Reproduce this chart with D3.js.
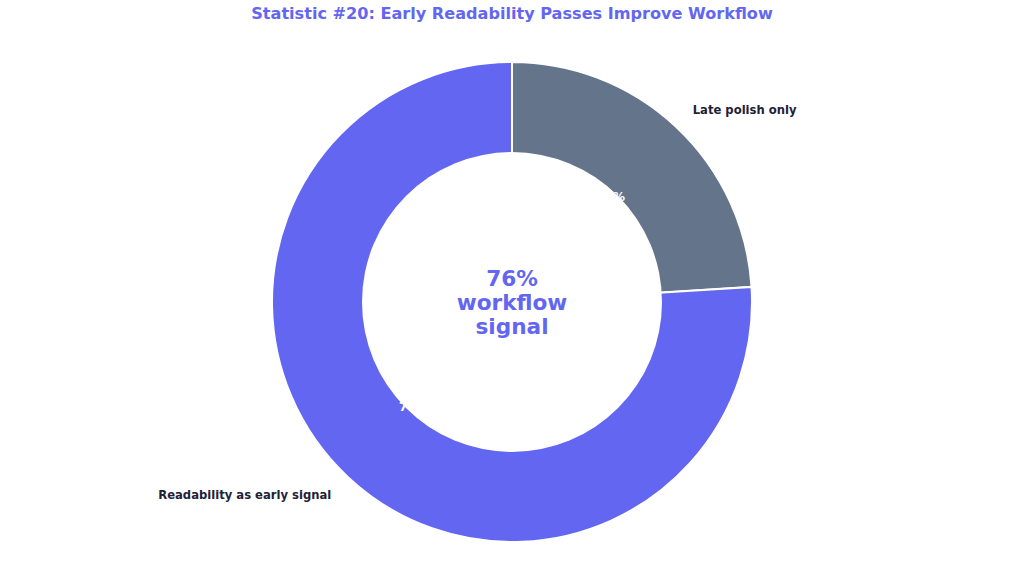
<!DOCTYPE html>
<html>
<head>
<meta charset="utf-8">
<script src="https://cdn.jsdelivr.net/npm/d3@7"></script>
<style>
  body { margin: 0; background: #ffffff; }
  svg { display: block; font-family: "DejaVu Sans", sans-serif; }
</style>
</head>
<body>
<svg id="chart" width="1024" height="573"></svg>
<script>
// slices, clockwise from 12 o'clock
var categories = ["Late polish only", "Readability as early signal"];
var values = [24, 76];
var colors = ["#64748B", "#6366F1"];
var centerLines = ["76%", "workflow", "signal"];
var title = "Statistic #20: Early Readability Passes Improve Workflow";

var svg = d3.select("#chart");
var cx = 512, cy = 302;
var outerR = 240, innerR = 150;

svg.append("text")
    .attr("x", cx)
    .attr("y", 19)
    .attr("text-anchor", "middle")
    .style("font-size", "16.1px")
    .style("font-weight", "bold")
    .style("fill", "#6366F1")
    .text(title);

var pie = d3.pie().sort(null).startAngle(0).endAngle(2 * Math.PI);
var arcs = pie(values);

var g = svg.append("g").attr("transform", "translate(" + cx + "," + cy + ")");

var arc = d3.arc().innerRadius(0).outerRadius(outerR);

g.selectAll("path.slice")
    .data(arcs)
    .enter()
    .append("path")
    .attr("class", "slice")
    .attr("d", arc)
    .style("fill", function (d, i) { return colors[i]; })
    .style("stroke", "#ffffff")
    .style("stroke-width", 2);

// percentage labels (white, mostly hidden under the hole)
var pctArc = d3.arc().innerRadius(outerR * 0.6).outerRadius(outerR * 0.6);
g.selectAll("text.pct")
    .data(arcs)
    .enter()
    .append("text")
    .attr("class", "pct")
    .attr("transform", function (d) { return "translate(" + pctArc.centroid(d) + ")"; })
    .attr("text-anchor", "middle")
    .attr("dy", "0.35em")
    .style("font-size", "12px")
    .style("font-weight", "bold")
    .style("fill", "#ffffff")
    .text(function (d) { return d.value + "%"; });

// hole
g.append("circle")
    .attr("r", innerR)
    .style("fill", "#ffffff");

// category labels outside
var labelArc = d3.arc().innerRadius(outerR * 1.1).outerRadius(outerR * 1.1);
g.selectAll("text.cat")
    .data(arcs)
    .enter()
    .append("text")
    .attr("class", "cat")
    .attr("transform", function (d) { return "translate(" + labelArc.centroid(d) + ")"; })
    .attr("text-anchor", function (d) {
        var mid = (d.startAngle + d.endAngle) / 2;
        return mid < Math.PI ? "start" : "end";
    })
    .attr("dy", "0.35em")
    .style("font-size", "11.6px")
    .style("font-weight", "bold")
    .style("fill", "#1e2235")
    .text(function (d, i) { return categories[i]; });

// center text
var center = g.append("text")
    .attr("text-anchor", "middle")
    .style("font-size", "21.6px")
    .style("font-weight", "bold")
    .style("fill", "#6366F1");
center.selectAll("tspan")
    .data(centerLines)
    .enter()
    .append("tspan")
    .attr("x", 0)
    .attr("y", function (d, i) { return (i - 1) * 24; })
    .attr("dy", "0.35em")
    .text(function (d) { return d; });
</script>
</body>
</html>
